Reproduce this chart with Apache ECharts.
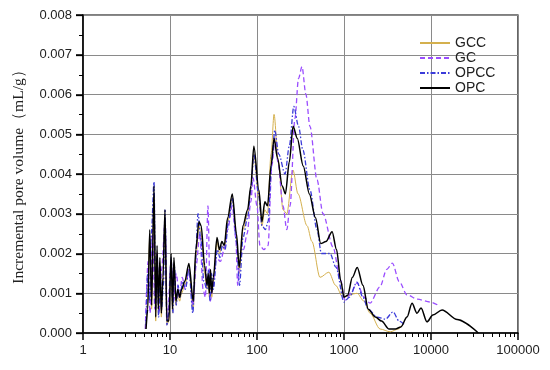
<!DOCTYPE html>
<html>
<head>
<meta charset="utf-8">
<script src="https://cdn.jsdelivr.net/npm/echarts@6/dist/echarts.min.js"></script>
<style>html,body{margin:0;padding:0;background:#fff}#c{width:550px;height:370px}</style>
</head>
<body>
<div id="c"></div>
<script>
const seriesNames = ['GCC', 'GC', 'OPCC', 'OPC'];
const yTitle = 'Incremental pore volume（mL/g）';

const gccData = [
  [5.3,0.0001],[5.55,0.0009],[5.85,0.0024],[6.15,0.0006],[6.55,0.0034],[6.85,0.0003],[7.1,0.002],[7.35,0.0005],
  [7.65,0.0017],[7.95,0.0004],[8.3,0.0013],[8.76,0.0029],[9.2,0.0002],[9.7,0.0003],[10.3,0.0018],[10.7,0.0005],
  [11.1,0.0017],[11.7,0.0007],[12.3,0.001],[12.9,0.0008],[13.6,0.001],[14.8,0.0012],[16.5,0.0016],[18.5,0.0006],
  [19.8,0.0019],[21.5,0.0027],[22.8,0.0025],[25,0.0015],[26.6,0.0011],[27.5,0.0014],[28.3,0.0009],[29.2,0.0015],
  [30.2,0.0009],[31.5,0.0013],[34.7,0.0023],[37,0.002],[39.5,0.0022],[42,0.0021],[46,0.0028],[52,0.0034],
  [58,0.0024],[62.5,0.0015],[69,0.0026],[78,0.003],[85,0.0036],[92,0.0045],[105,0.0034],[114,0.0027],
  [123,0.0031],[132,0.003],[145,0.0045],[157,0.0055],[176,0.0043],[199,0.0031],[220,0.003],[259,0.0041],
  [296,0.0035],[376,0.0027],[428,0.0023],[530,0.0014],[670,0.00153],[800,0.0012],[970,0.0009],[1410,0.001],
  [1700,0.0008],[1990,0.0005],[2600,0.0001],[3400,0.00003],[4200,0.0001],[4700,0.0002]
];
const gcData = [
  [5.2,0.0001],[5.6,0.0018],[5.9,0.0005],[6.3,0.0026],[6.7,0.0006],[7.1,0.002],[7.5,0.0005],[8.0,0.0016],
  [8.8,0.0028],[9.3,0.0003],[10.3,0.0018],[11.0,0.0008],[11.8,0.0015],[12.8,0.0009],[13.8,0.0014],[15,0.0011],
  [16.5,0.0016],[18.3,0.0007],[20,0.0017],[22,0.0025],[24,0.0011],[25.5,0.0009],[27.3,0.0032],[29,0.0008],
  [31,0.0011],[34,0.0019],[38,0.0018],[42,0.0021],[46,0.0026],[52,0.0032],[57,0.0024],[60,0.0012],
  [64,0.0019],[70,0.0021],[77,0.0025],[85,0.0033],[90,0.0039],[100,0.0032],[108,0.0022],[120,0.0021],
  [134,0.0022],[148,0.0042],[161,0.0049],[174,0.0043],[199,0.0032],[220,0.0026],[240,0.0032],[273,0.0054],
  [300,0.0064],[329,0.0067],[365,0.006],[406,0.0052],[490,0.00385],[574,0.003],[748,0.00216],[899,0.0014],
  [1027,0.00083],[1200,0.001],[1410,0.00126],[1700,0.0009],[1990,0.00075],[2590,0.00116],[3100,0.0016],
  [3600,0.00176],[4300,0.0013],[5300,0.00096],[7000,0.00085],[9740,0.00078],[12700,0.00067]
];
const opccData = [
  [5.3,0.0002],[5.55,0.0015],[5.85,0.0008],[6.1,0.0025],[6.55,0.0038],[6.85,0.0006],[7.1,0.0019],[7.4,0.0004],
  [7.7,0.0017],[8.0,0.0006],[8.4,0.0012],[8.76,0.0031],[9.2,0.0002],[9.7,0.0005],[10.3,0.0019],[10.8,0.0005],
  [11.2,0.0017],[11.8,0.0007],[12.4,0.0012],[13,0.0009],[14,0.0013],[15,0.0011],[16.5,0.0016],[18.3,0.0005],
  [19.5,0.0017],[21,0.003],[22.5,0.0024],[24.5,0.0013],[26.6,0.0011],[27.8,0.0016],[28.8,0.0008],[30,0.0015],
  [31.5,0.0011],[35,0.0021],[37.5,0.0019],[40,0.0022],[43,0.0021],[47,0.0028],[52,0.0034],[58,0.0023],
  [63,0.0012],[69,0.0024],[78,0.0029],[85,0.0036],[92,0.0045],[104,0.0035],[114,0.0027],[125,0.0026],
  [134,0.0028],[148,0.0043],[160,0.0051],[178,0.0045],[210,0.004],[235,0.0047],[265,0.0057],[300,0.0052],
  [337,0.0046],[406,0.0036],[490,0.0026],[550,0.002],[690,0.002],[810,0.00165],[1000,0.00078],[1150,0.0009],
  [1410,0.00128],[1650,0.0009],[1900,0.0006],[2400,0.0004],[3000,0.00035],[3660,0.00053],[4300,0.0003],[5000,0.0002]
];
const opcData = [
  [5.3,0.0001],[5.55,0.0006],[5.85,0.0026],[6.15,0.0007],[6.55,0.0037],[6.85,0.0004],[7.1,0.0022],[7.35,0.0006],
  [7.65,0.0019],[7.95,0.0005],[8.3,0.0014],[8.76,0.0031],[9.2,0.0003],[9.7,0.0003],[10.3,0.002],[10.7,0.0006],
  [11.1,0.0019],[11.7,0.0008],[12.3,0.0011],[12.9,0.0009],[13.6,0.0011],[14.8,0.0013],[16.5,0.00175],[18.5,0.0008],
  [19.8,0.0021],[21.5,0.0028],[22.8,0.0027],[25,0.0017],[26.6,0.0012],[27.5,0.0015],[28.3,0.001],[29.2,0.0016],
  [30.2,0.001],[31.5,0.0014],[34.7,0.0024],[37,0.0021],[39.5,0.0023],[42,0.0022],[46,0.0029],[52,0.0035],
  [58,0.0025],[62.5,0.00165],[69,0.0027],[78,0.0031],[85,0.0037],[92,0.0047],[105,0.0036],[114,0.0028],
  [123,0.0033],[132,0.0032],[145,0.0042],[157,0.0049],[172,0.0044],[195,0.0037],[212,0.0035],[235,0.0043],
  [260,0.0052],[290,0.0049],[340,0.0042],[400,0.0035],[470,0.0029],[540,0.00225],[620,0.0023],[730,0.00255],
  [820,0.0021],[920,0.0013],[1000,0.0009],[1100,0.00095],[1250,0.0014],[1420,0.00165],[1650,0.0012],[1900,0.0006],
  [2300,0.0004],[2700,0.0003],[3300,0.0001],[3900,0.0001],[4500,0.00015],[5300,0.0004],[6050,0.00075],[6900,0.0005],
  [7680,0.00063],[9000,0.00028],[10500,0.00045],[13400,0.00058],[20000,0.00034],[35000,0]
];

// tick positions (axis decoration)
const xMinorTicks = [];
for (let e = 0; e < 5; e++) for (let m = 2; m <= 9; m++) xMinorTicks.push(m * Math.pow(10, e));
const yMajorTicks = [0, 0.001, 0.002, 0.003, 0.004, 0.005, 0.006, 0.007, 0.008];
const yMinorTicks = [0.0005, 0.0015, 0.0025, 0.0035, 0.0045, 0.0055, 0.0065, 0.0075];

const chart = echarts.init(document.getElementById('c'), null, {renderer: 'canvas'});
const axisFont = {fontFamily: 'Liberation Sans, Arial, sans-serif', fontSize: 13, color: '#222'};
function mk(name, data, color, width, type) {
  return {
    name: name, type: 'line', data: data, symbol: 'none', smooth: 0.3, smoothMonotone: 'x',
    lineStyle: {color: color, width: width, type: type}, itemStyle: {color: color}
  };
}
const titleGraphic = {
  type: 'text', x: 19, y: 173, rotation: Math.PI / 2,
  style: {text: yTitle, fontFamily: 'Liberation Serif, Times New Roman, serif', fontSize: 15.5, fill: '#222',
    textAlign: 'center', textVerticalAlign: 'middle'}
};
chart.setOption({
  animation: false,
  backgroundColor: '#fff',
  grid: {left: 83, right: 32, top: 15, bottom: 37, show: true, borderColor: '#000', borderWidth: 1.2},
  legend: {
    orient: 'vertical', left: 414, top: 31, itemWidth: 30, itemHeight: 12, itemGap: 1,
    itemStyle: {opacity: 0},
    textStyle: {fontFamily: 'Liberation Sans, Arial, sans-serif', fontSize: 14, color: '#222'},
    data: seriesNames
  },
  xAxis: {
    type: 'log', logBase: 10, min: 1, max: 100000,
    axisLine: {show: true, lineStyle: {color: '#000', width: 1.5}},
    axisTick: {show: true, inside: false, length: 7, lineStyle: {color: '#000', width: 1.5}},
    axisLabel: Object.assign({margin: 11, formatter: v => String(Math.round(v))}, axisFont),
    splitLine: {show: true, lineStyle: {color: '#8a8a8a', width: 1}}
  },
  yAxis: {
    type: 'value', min: 0, max: 0.008, interval: 0.001,
    axisLine: {show: true, lineStyle: {color: '#000', width: 1.5}},
    axisTick: {show: true, inside: false, length: 7, lineStyle: {color: '#000', width: 1.5}},
    axisLabel: Object.assign({margin: 11, formatter: v => v.toFixed(3)}, axisFont),
    splitLine: {show: true, lineStyle: {color: '#8a8a8a', width: 1}}
  },
  graphic: [titleGraphic],
  series: [
    mk('GCC', gccData, '#d4b04e', 1, 'solid'),
    mk('GC', gcData, '#9a4dff', 1.3, [5, 3]),
    mk('OPCC', opccData, '#3b3bd9', 1.3, [5, 2, 1.5, 2]),
    mk('OPC', opcData, '#000000', 1.5, 'solid')
  ]
});

// tick marks placed through the chart's own scales
const tickGraphics = [titleGraphic];
xMinorTicks.forEach(v => {
  const p = chart.convertToPixel({gridIndex: 0}, [v, 0]);
  tickGraphics.push({type: 'line', silent: true, z: 100,
    shape: {x1: Math.round(p[0]) + 0.5, y1: p[1], x2: Math.round(p[0]) + 0.5, y2: p[1] + 4},
    style: {stroke: '#000', lineWidth: 1}});
});
yMajorTicks.forEach(v => {
  const p = chart.convertToPixel({gridIndex: 0}, [1, v]);
  tickGraphics.push({type: 'line', silent: true, z: 100,
    shape: {x1: p[0] - 7, y1: Math.round(p[1]) + 0.5, x2: p[0], y2: Math.round(p[1]) + 0.5},
    style: {stroke: '#000', lineWidth: 1.3}});
});
yMinorTicks.forEach(v => {
  const p = chart.convertToPixel({gridIndex: 0}, [1, v]);
  tickGraphics.push({type: 'line', silent: true, z: 100,
    shape: {x1: p[0] - 4, y1: Math.round(p[1]) + 0.5, x2: p[0], y2: Math.round(p[1]) + 0.5},
    style: {stroke: '#000', lineWidth: 1}});
});
chart.setOption({graphic: tickGraphics});
</script>
</body>
</html>
